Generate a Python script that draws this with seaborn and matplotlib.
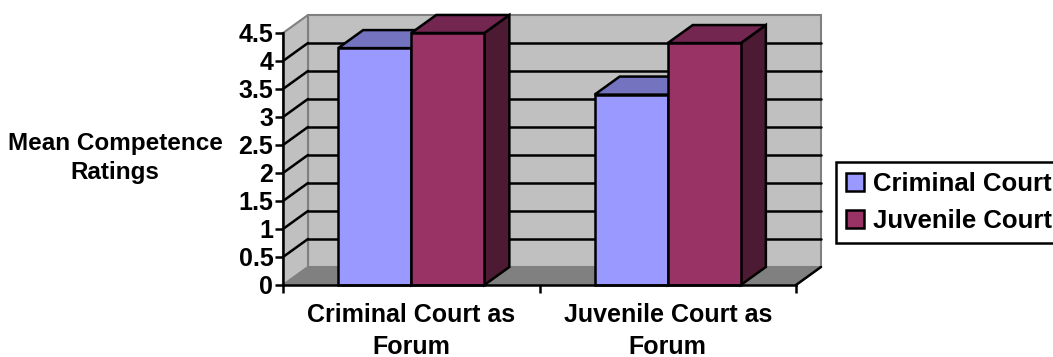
import matplotlib
matplotlib.use("Agg")
import matplotlib.pyplot as plt
import seaborn as sns
import pandas as pd
from matplotlib.patches import Polygon, Patch
from matplotlib.lines import Line2D

# ---- data ----
forums = ["Criminal Court as\nForum", "Juvenile Court as\nForum"]
courts = ["Criminal Court", "Juvenile Court"]
criminal_court = [4.23, 3.40]
juvenile_court = [4.50, 4.32]
y_ticks = [0, 0.5, 1, 1.5, 2, 2.5, 3, 3.5, 4, 4.5]
y_tick_labels = ["0", "0.5", "1", "1.5", "2", "2.5", "3", "3.5", "4", "4.5"]

df = pd.DataFrame({
    "forum": forums * 2,
    "court": [courts[0]] * len(forums) + [courts[1]] * len(forums),
    "rating": criminal_court + juvenile_court,
})

sns.set_theme(style="white")
plt.rcParams["font.family"] = ["Liberation Sans", "DejaVu Sans"]
plt.rcParams["font.weight"] = "bold"
for key in ("text.color", "axes.labelcolor", "xtick.color", "ytick.color"):
    plt.rcParams[key] = "black"

front = {"Criminal Court": "#9999FF", "Juvenile Court": "#993366"}
top = {"Criminal Court": "#7373BF", "Juvenile Court": "#732650"}
side = {"Criminal Court": "#4D4D80", "Juvenile Court": "#4D1A33"}

W, H = 1053, 357
fig = plt.figure(figsize=(W / 100, H / 100), dpi=100)
ax = fig.add_axes([283 / W, 72 / H, 513 / W, 252 / H])
ax.patch.set_alpha(0)

sns.barplot(data=df, x="forum", y="rating", hue="court", palette=front,
            width=0.57, saturation=1, edgecolor="black", linewidth=1.8,
            ax=ax, legend=False)
ax.set_xlim(-0.5, 1.5)
ax.set_ylim(0, 4.5)

# collect the drawn bars together with their court
bars = []
for court, cont in zip(courts, ax.containers):
    for b in cont:
        bars.append((b, court))
bars.sort(key=lambda t: t[0].get_x())

# depth offset of the pseudo-3D box (data units)
DX, DY = 0.0975, 0.322
x0, x1, ymax = -0.5, 1.5, 4.5
wall = "#C0C0C0"
edge = "#808080"

# back wall, side wall, floor
ax.add_patch(Polygon([(x0 + DX, DY), (x1 + DX, DY), (x1 + DX, ymax + DY), (x0 + DX, ymax + DY)],
                     closed=True, facecolor=wall, edgecolor=edge, lw=1.5, clip_on=False, zorder=0.1))
ax.add_patch(Polygon([(x0, 0), (x0 + DX, DY), (x0 + DX, ymax + DY), (x0, ymax)],
                     closed=True, facecolor=wall, edgecolor=edge, lw=1.5, clip_on=False, zorder=0.1))
ax.add_patch(Polygon([(x0, 0), (x1, 0), (x1 + DX, DY), (x0 + DX, DY)],
                     closed=True, facecolor="#808080", edgecolor=edge, lw=1.0, clip_on=False, zorder=0.15))
ax.add_line(Line2D([x1, x1 + DX], [0, DY], color="black", lw=1.8, clip_on=False, zorder=0.3))

# gridlines on the walls
for v in y_ticks[1:-1]:
    ax.add_line(Line2D([x0 + DX, x1 + DX], [v + DY, v + DY], color="black", lw=1.8,
                       clip_on=False, zorder=0.2))
    ax.add_line(Line2D([x0, x0 + DX], [v, v + DY], color="black", lw=1.8,
                       clip_on=False, zorder=0.2))

# extrude bars: side and top faces, drawn left to right
for i, (b, court) in enumerate(bars):
    bx0, bw, h = b.get_x(), b.get_width(), b.get_height()
    bx1 = bx0 + bw
    z = 1 + 2 * i
    ax.add_patch(Polygon([(bx1, 0), (bx1 + DX, DY), (bx1 + DX, h + DY), (bx1, h)], closed=True,
                         facecolor=side[court], edgecolor="black", lw=1.8, clip_on=False, zorder=z))
    ax.add_patch(Polygon([(bx0, h), (bx1, h), (bx1 + DX, h + DY), (bx0 + DX, h + DY)], closed=True,
                         facecolor=top[court], edgecolor="black", lw=1.8, clip_on=False, zorder=z))
    b.set_zorder(z + 0.5)
    b.set_clip_on(False)

# axes, ticks and labels
sns.despine(ax=ax, top=True, right=True)
for s in ("left", "bottom"):
    ax.spines[s].set_color("black")
    ax.spines[s].set_linewidth(1.8)
    ax.spines[s].set_zorder(50)
ax.set_yticks(y_ticks)
ax.set_yticklabels(y_tick_labels)
ax.tick_params(axis="y", which="major", left=True, direction="out", length=6, width=1.8,
               color="black", pad=1, labelsize=18)
ax.set_xticks([-0.5, 0.5, 1.5], minor=True)
ax.tick_params(axis="x", which="minor", bottom=True, direction="out", length=6, width=1.8, color="black")
ax.tick_params(axis="x", which="major", bottom=False, length=0, pad=13, labelsize=18)
for t in ax.get_xticklabels():
    t.set_linespacing(1.4)
    t.set_fontweight("bold")
for t in ax.get_yticklabels():
    t.set_fontweight("bold")

ax.set_xlabel("")
ax.set_ylabel("Mean Competence\nRatings", rotation=0, fontsize=17.5, fontweight="bold",
              ha="center", va="center", linespacing=1.35)
ax.yaxis.set_label_coords((115 - 283) / 513, (285 - 158) / 252)

handles = [Patch(facecolor=front[c], edgecolor="black", lw=1.8) for c in courts]
leg = fig.legend(handles, courts, loc="upper left", bbox_to_anchor=(836 / W, 1 - 162 / H),
                 frameon=True, fancybox=False, edgecolor="black", framealpha=1,
                 prop={"weight": "bold", "size": 18.5}, handlelength=0.7, handleheight=0.7,
                 handletextpad=0.35, borderpad=0.4, labelspacing=0.5, borderaxespad=0)
leg.get_frame().set_linewidth(1.8)

fig.savefig("out.png", dpi=100)
